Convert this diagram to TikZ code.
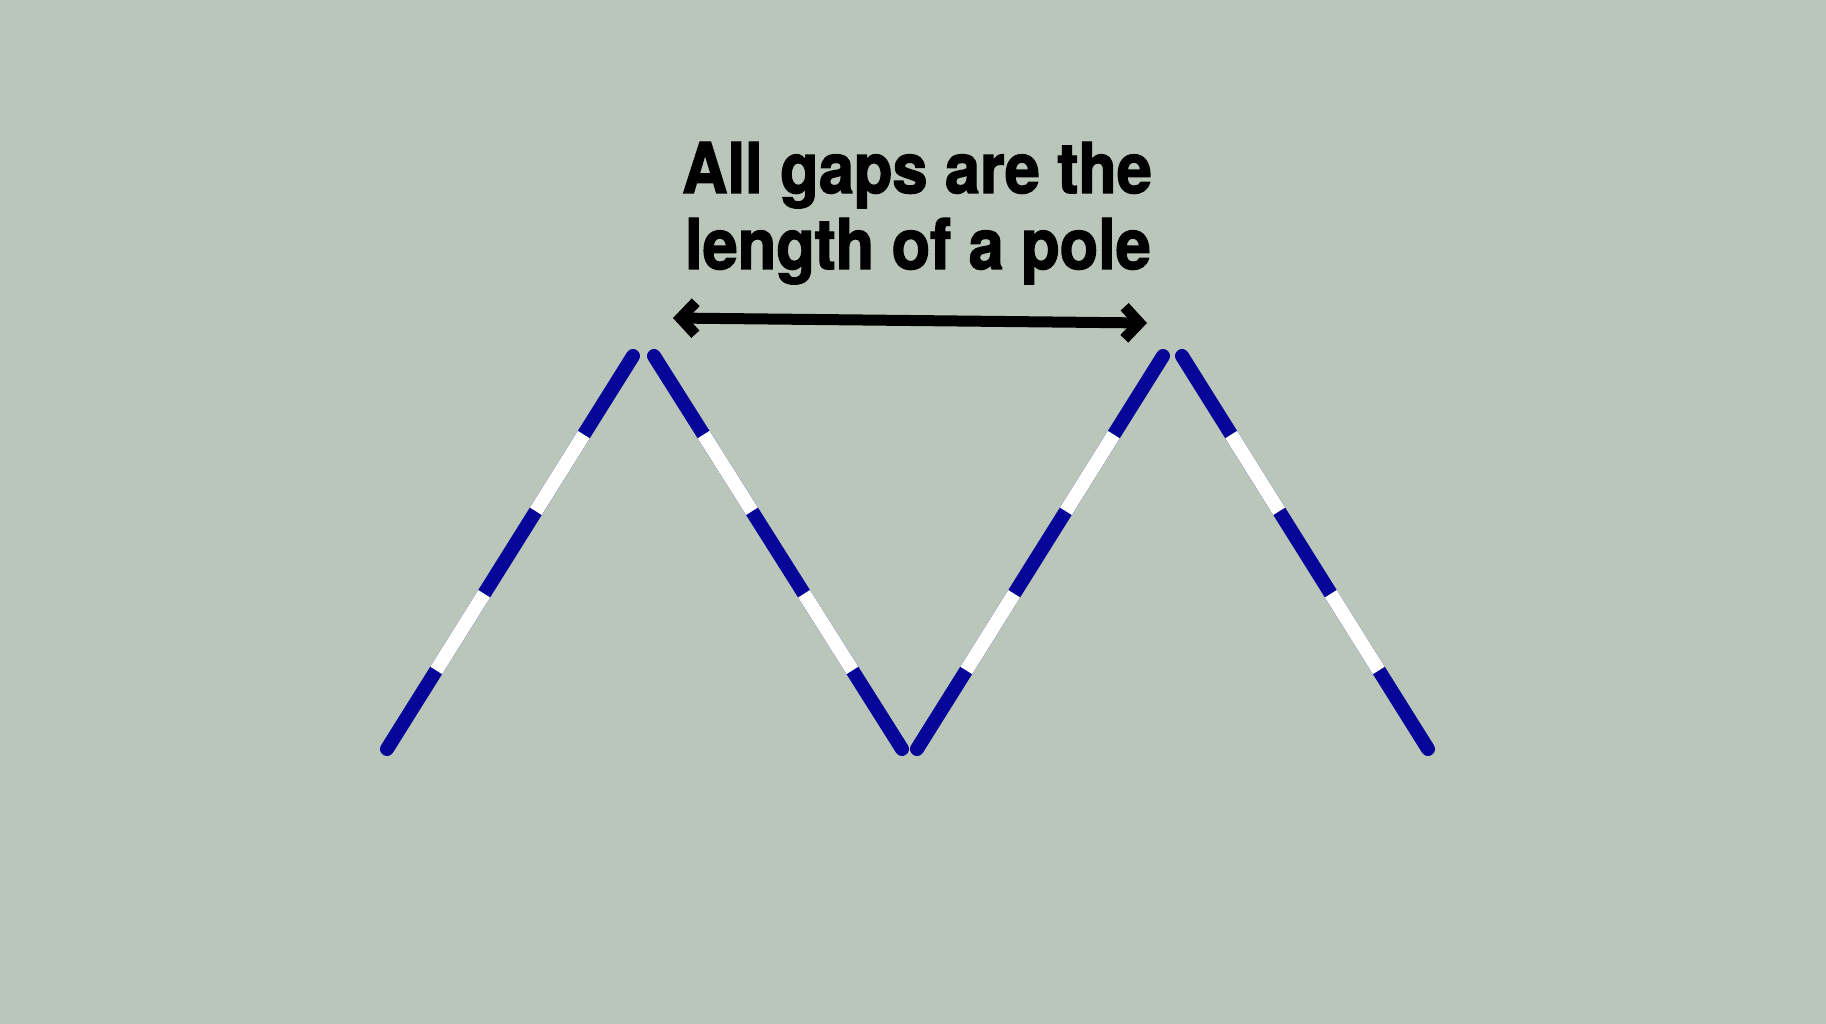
\documentclass[tikz,border=0pt]{standalone}
\usepackage{fontspec}
\usetikzlibrary{calc,arrows.meta}
\newfontfamily\headfont[FakeStretch=0.9,FakeBold=2]{TeX Gyre Heros}
\definecolor{bgsage}{RGB}{186,198,185}
\definecolor{poleblue}{RGB}{6,6,152}
\tikzset{
  polestroke/.style={draw=poleblue, line width=14pt, line cap=round},
  polewhite/.style={draw=white, line width=14pt, line cap=butt},
  headtext/.style={inner sep=0pt, anchor=base, font=\headfont\bfseries\fontsize{70}{76}\selectfont, text=black},
  gaparrow/.style={draw=black, line width=11pt, {Straight Barb[length=15pt, width=32pt, line width=11pt]}-{Straight Barb[length=15pt, width=32pt, line width=11pt]}}
}
\newcommand{\drawpole}[2]{%
  \draw[polestroke] (#1) -- (#2);
  \draw[polewhite] ($(#1)!0.2!(#2)$) -- ($(#1)!0.395!(#2)$);
  \draw[polewhite] ($(#1)!0.605!(#2)$) -- ($(#1)!0.8!(#2)$);
}
\begin{document}
\begin{tikzpicture}[x=1pt,y=-1pt]
  \fill[bgsage] (0,0) rectangle (1826,1024);
  \useasboundingbox (0,0) rectangle (1826,1024);
  % poles
  \coordinate (p1b) at (387,749);
  \coordinate (p1t) at (633,356);
  \coordinate (p2t) at (654,356);
  \coordinate (p2b) at (902,749);
  \coordinate (p3b) at (917,749);
  \coordinate (p3t) at (1163,356);
  \coordinate (p4t) at (1182,356);
  \coordinate (p4b) at (1428,749);
  \drawpole{p1b}{p1t}
  \drawpole{p2t}{p2b}
  \drawpole{p3b}{p3t}
  \drawpole{p4t}{p4b}
  % arrow
  \coordinate (al) at (673,318);
  \coordinate (ar) at (1147,323);
  \draw[gaparrow] (al) -- (ar);
  % text
  \node[headtext] (line1) at (917,193) {All gaps are the};
  \node[headtext] (line2) at (918,269) {length of a pole};
\end{tikzpicture}
\end{document}
